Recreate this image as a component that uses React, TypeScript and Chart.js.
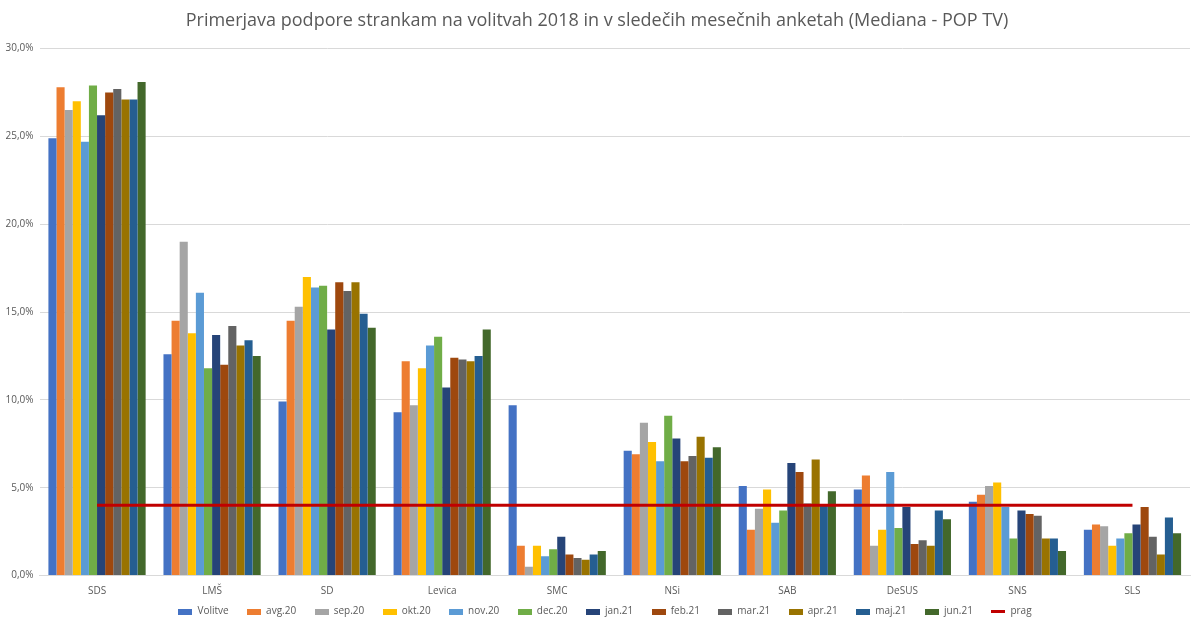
import React, { useEffect, useRef } from 'react';
import { Chart, registerables } from 'chart.js';

Chart.register(...registerables);

// parties on the x axis
const categories = ['SDS', 'LMŠ', 'SD', 'Levica', 'SMC', 'NSi', 'SAB', 'DeSUS', 'SNS', 'SLS'];

// support in % per poll
const volitve = [24.9, 12.6, 9.9, 9.3, 9.7, 7.1, 5.1, 4.9, 4.2, 2.6];
const avg20 = [27.8, 14.5, 14.5, 12.2, 1.7, 6.9, 2.6, 5.7, 4.6, 2.9];
const sep20 = [26.5, 19.0, 15.3, 9.7, 0.5, 8.7, 3.8, 1.7, 5.1, 2.8];
const okt20 = [27.0, 13.8, 17.0, 11.8, 1.7, 7.6, 4.9, 2.6, 5.3, 1.7];
const nov20 = [24.7, 16.1, 16.4, 13.1, 1.1, 6.5, 3.0, 5.9, 3.9, 2.1];
const dec20 = [27.9, 11.8, 16.5, 13.6, 1.5, 9.1, 3.7, 2.7, 2.1, 2.4];
const jan21 = [26.2, 13.7, 14.0, 10.7, 2.2, 7.8, 6.4, 3.9, 3.7, 2.9];
const feb21 = [27.5, 12.0, 16.7, 12.4, 1.2, 6.5, 5.9, 1.8, 3.5, 3.9];
const mar21 = [27.7, 14.2, 16.2, 12.3, 1.0, 6.8, 4.1, 2.0, 3.4, 2.2];
const apr21 = [27.1, 13.1, 16.7, 12.2, 0.9, 7.9, 6.6, 1.7, 2.1, 1.2];
const maj21 = [27.1, 13.4, 14.9, 12.5, 1.2, 6.7, 4.0, 3.7, 2.1, 3.3];
const jun21 = [28.1, 12.5, 14.1, 14.0, 1.4, 7.3, 4.8, 3.2, 1.4, 2.4];

// electoral threshold
const prag = [4, 4, 4, 4, 4, 4, 4, 4, 4, 4];

const seriesNames = ['Volitve', 'avg.20', 'sep.20', 'okt.20', 'nov.20', 'dec.20', 'jan.21', 'feb.21', 'mar.21', 'apr.21', 'maj.21', 'jun.21'];
const seriesValues = [volitve, avg20, sep20, okt20, nov20, dec20, jan21, feb21, mar21, apr21, maj21, jun21];
const seriesColors = ['#4472C4', '#ED7D31', '#A5A5A5', '#FFC000', '#5B9BD5', '#70AD47', '#264478', '#9E480E', '#636363', '#997300', '#255E91', '#43682B'];

const textColor = '#595959';
const fontFamily = "'Open Sans', sans-serif";

// small canvas used as a legend marker
const marker = (color: string, w: number, h: number) => {
  const c = document.createElement('canvas');
  c.width = w;
  c.height = h;
  const g = c.getContext('2d');
  if (g) {
    g.fillStyle = color;
    g.fillRect(0, 0, w, h);
  }
  return c;
};

// pins legend height and nudges it, so the label spacing can stay wide
const legendHeight = {
  id: 'legendHeight',
  beforeInit(chart: any) {
    const fit = chart.legend.fit;
    chart.legend.fit = function () {
      fit.bind(chart.legend)();
      this.height = 20.5;
    };
  },
  afterLayout(chart: any) {
    chart.legend.top -= 19.5;
    chart.legend.bottom = chart.height;
    chart.legend.left += 8;
    chart.legend.right += 8;
  },
};

const App: React.FC = () => {
  const chartRef = useRef<HTMLCanvasElement>(null);
  const chartInstance = useRef<Chart | null>(null);

  useEffect(() => {
    if (!chartRef.current) return;
    const ctx = chartRef.current.getContext('2d');
    if (!ctx) return;

    const barSets: any[] = seriesNames.map((name, i) => ({
      type: 'bar',
      label: name,
      data: seriesValues[i],
      backgroundColor: seriesColors[i],
      borderWidth: 0,
      categoryPercentage: 0.845,
      barPercentage: 1.0,
      order: 1,
    }));

    chartInstance.current = new Chart(ctx, {
      type: 'bar',
      data: {
        labels: categories,
        datasets: [
          ...barSets,
          {
            type: 'line',
            label: 'prag',
            data: prag,
            borderColor: '#C00000',
            backgroundColor: '#C00000',
            borderWidth: 3,
            pointRadius: 0,
            fill: false,
            order: -1,
          },
        ],
      },
      plugins: [legendHeight],
      options: {
        responsive: true,
        maintainAspectRatio: false,
        animation: false,
        layout: { padding: { left: 4, right: 10, top: 0, bottom: 0 } },
        scales: {
          x: {
            grid: { display: false, drawTicks: false },
            border: { display: true, color: '#D9D9D9', width: 1 },
            ticks: { color: textColor, font: { size: 10, family: fontFamily }, padding: 10 },
          },
          y: {
            min: 0,
            max: 30,
            ticks: {
              stepSize: 5,
              color: textColor,
              padding: 6,
              font: { size: 10, family: fontFamily },
              callback: (v: any) => Number(v).toFixed(1).replace('.', ',') + '%',
            },
            grid: { color: '#D9D9D9', drawTicks: false },
            border: { display: false },
            afterFit: (scale: any) => {
              scale.width = 35.5;
            },
          },
        },
        plugins: {
          title: {
            display: true,
            text: 'Primerjava podpore strankam na volitvah 2018 in v sledečih mesečnih anketah (Mediana - POP TV)',
            color: textColor,
            font: { size: 18, family: fontFamily, weight: 'normal' },
            padding: { top: 10, bottom: 17 },
          },
          legend: {
            position: 'bottom',
            labels: {
              color: textColor,
              font: { size: 10, family: fontFamily },
              usePointStyle: true,
              pointStyleWidth: 14,
              boxHeight: 6,
              boxWidth: 14,
              padding: 18.5,
              generateLabels: (chart: any) =>
                chart.data.datasets.map((ds: any, i: number) => ({
                  text: ds.label,
                  fillStyle: ds.backgroundColor,
                  strokeStyle: ds.backgroundColor,
                  lineWidth: 0,
                  pointStyle: ds.type === 'line' ? marker(ds.borderColor, 14, 3) : marker(ds.backgroundColor, 14, 6),
                  fontColor: textColor,
                  hidden: false,
                  datasetIndex: i,
                })),
            },
          },
          tooltip: { enabled: false },
        },
      },
    });

    return () => {
      if (chartInstance.current) {
        chartInstance.current.destroy();
        chartInstance.current = null;
      }
    };
  }, []);

  return (
    <div style={{ position: 'fixed', left: 0, top: 0, width: 1200, height: 628, background: '#FFFFFF' }}>
      <canvas ref={chartRef} />
    </div>
  );
};

export default App;
